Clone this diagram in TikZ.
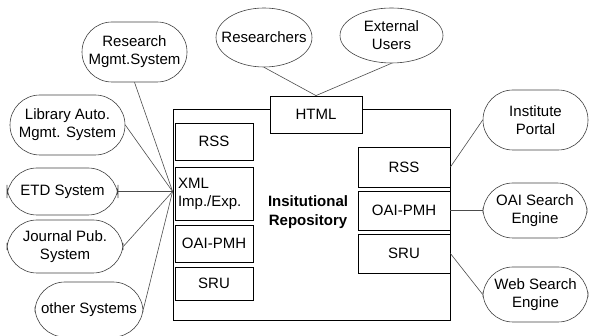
\documentclass[tikz,border=0pt]{standalone}
\usepackage{fontspec}
\setsansfont{Liberation Sans}
\usetikzlibrary{shapes.geometric}

\begin{document}
\begin{tikzpicture}[
  x=1pt, y=-1pt,
  font=\sffamily\fontsize{15}{18}\selectfont,
  box/.style={draw, line width=0.8pt, inner sep=1pt},
  iface/.style={box, fill=white, align=center},
  user/.style={draw=black!75, line width=0.6pt, ellipse, inner sep=-12pt, align=center},
  system/.style={draw=black!75, line width=0.6pt, rectangle, rounded corners=30pt, inner sep=0pt, align=center},
  link/.style={draw=black!70, line width=0.6pt}
]
\useasboundingbox (0,0) rectangle (594,336);

% repository
\node[box, minimum width=277pt, minimum height=211pt] (repo) at (311.5,214.5) {};
\node[font=\sffamily\bfseries\fontsize{15}{19}\selectfont, align=center] (repolabel) at (308,212) {Insitutional\\Repository};

\node[iface, minimum width=78pt, minimum height=37pt] (lrss) at (214,141.5) {RSS};
\node[iface, minimum width=78pt, minimum height=53pt, text width=72pt, align=left] (lxml) at (214,193.5) {XML\\Imp./Exp.};
\node[iface, minimum width=78pt, minimum height=37pt] (loai) at (214,243.5) {OAI-PMH};
\node[iface, minimum width=78pt, minimum height=33pt] (lsru) at (214,283.5) {SRU};

\node[iface, minimum width=92pt, minimum height=40pt] (rrss) at (404,167) {RSS};
\node[iface, minimum width=92pt, minimum height=39pt] (roai) at (404,210.5) {OAI-PMH};
\node[iface, minimum width=92pt, minimum height=39pt] (rsru) at (404,253.5) {SRU};

\node[iface, minimum width=92pt, minimum height=37pt] (html) at (316,114.5) {HTML};

% users
\node[user, minimum width=96pt, minimum height=59pt] (researchers) at (264,37.5) {Researchers};
\node[user, minimum width=103pt, minimum height=55pt] (extusers) at (391.5,35.5) {External\\Users};

% systems
\node[system, minimum width=105pt, minimum height=60pt] (research) at (134.5,52) {Research\\Mgmt.System};
\node[system, minimum width=115pt, minimum height=60pt] (library) at (67.5,125) {Library Auto.\\Mgmt. System};
\node[system, minimum width=111pt, minimum height=47pt] (etd) at (62.5,191.5) {ETD System};
\node[system, minimum width=116pt, minimum height=53pt] (journal) at (65,246.5) {Journal Pub.\\System};
\node[system, minimum width=108pt, minimum height=55pt] (other) at (89,309.5) {other Systems};

\node[system, minimum width=105pt, minimum height=60pt] (portal) at (535.5,120) {Institute\\Portal};
\node[system, minimum width=104pt, minimum height=55pt] (oaise) at (535,210.5) {OAI Search\\Engine};
\node[system, minimum width=105pt, minimum height=55pt] (websearch) at (535.5,294.5) {Web Search\\Engine};

% links
\coordinate (hub) at (repo.west |- etd.east);
\draw[link] (research.south) -- (hub);
\draw[link] (library.east) -- (hub);
\draw[link] (etd.east) -- (hub);
\draw[link] (journal.east) -- (hub);
\draw[link] (other.east) -- (hub);

\draw[link] (researchers.south) -- (html.north);
\draw[link] (extusers.south) -- (html.north);

\draw[link] (rrss.east) -- (portal.west);
\draw[link] (roai.east) -- (oaise.west);
\draw[link] (rsru.east) -- (websearch.west);

\end{tikzpicture}
\end{document}
